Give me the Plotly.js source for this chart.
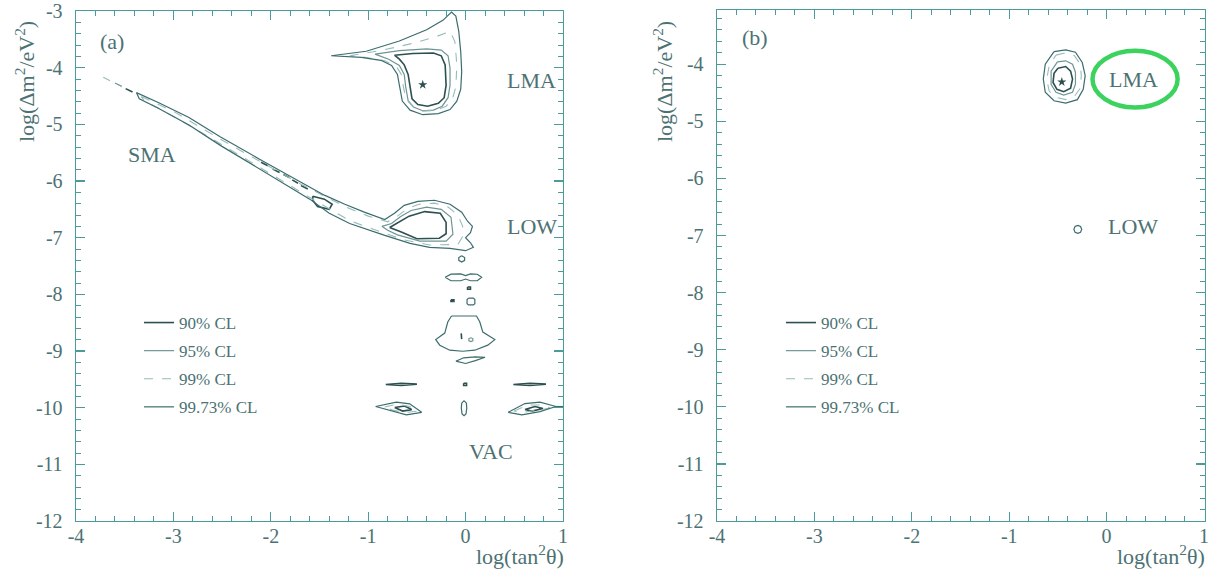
<!DOCTYPE html>
<html><head><meta charset="utf-8">
<script src="https://cdn.plot.ly/plotly-3.0.1.min.js"></script>
<style>html,body{margin:0;padding:0;background:#fff}#chart{width:1210px;height:571px}</style>
</head><body><div id="chart"></div>
<script>
// ---------- ticks ----------
const xTickVals = [-4,-3,-2,-1,0,1];
const xTickText = ['-4','-3','-2','-1','0','1'];
const yTickVals = [-12,-11,-10,-9,-8,-7,-6,-5,-4,-3];
const yTickText = ['-12','-11','-10','-9','-8','-7','-6','-5','-4','-3'];
const minorStep = 0.2;
const clLevels = ['90% CL','95% CL','99% CL','99.73% CL'];

// ---------- panel (a) : LMA ----------
const aLma73X = [-1.38,-1.02,-0.68,-0.40,-0.23,-0.145,-0.10,-0.07,-0.05,-0.04,-0.05,-0.09,-0.16,-0.28,-0.44,-0.57,-0.65,-0.68,-0.70,-0.76,-0.87,-1.07,-1.38];
const aLma73Y = [-3.79,-3.71,-3.53,-3.33,-3.16,-3.02,-3.09,-3.36,-3.72,-4.07,-4.38,-4.59,-4.74,-4.81,-4.83,-4.75,-4.59,-4.32,-4.12,-3.96,-3.87,-3.82,-3.79];
const aLma99X = [-1.19,-0.85,-0.54,-0.30,-0.16,-0.11,-0.09,-0.10,-0.135,-0.20,-0.30,-0.44,-0.54,-0.615,-0.64,-0.66,-0.71,-0.83,-1.02,-1.19];
const aLma99Y = [-3.79,-3.69,-3.57,-3.45,-3.36,-3.54,-3.95,-4.34,-4.55,-4.68,-4.75,-4.77,-4.69,-4.55,-4.32,-4.12,-3.98,-3.88,-3.82,-3.79];
const aLma95X = [-0.93,-0.68,-0.40,-0.25,-0.18,-0.16,-0.16,-0.18,-0.24,-0.33,-0.44,-0.53,-0.59,-0.615,-0.63,-0.68,-0.79,-0.93];
const aLma95Y = [-3.76,-3.70,-3.67,-3.69,-3.79,-4.01,-4.31,-4.53,-4.68,-4.75,-4.76,-4.70,-4.58,-4.34,-4.12,-3.96,-3.85,-3.76];
const aLma90X = [-0.73,-0.54,-0.33,-0.25,-0.21,-0.20,-0.22,-0.28,-0.39,-0.49,-0.55,-0.57,-0.59,-0.63,-0.68,-0.73];
const aLma90Y = [-3.78,-3.75,-3.74,-3.79,-3.95,-4.31,-4.53,-4.63,-4.68,-4.65,-4.55,-4.34,-4.12,-3.95,-3.85,-3.78];
const aStarX = [-0.44];
const aStarY = [-4.30];

// ---------- panel (a) : SMA - LOW band ----------
const aSma73X = [-3.38,-3.15,-2.84,-2.52,-2.12,-1.71,-1.45,-1.24,-1.04,-0.83,-0.73,-0.63,-0.49,-0.32,-0.16,-0.04,0.02,0.07,0.05,0.00,0.05,0.08,0.00,-0.16,-0.37,-0.57,-0.83,-1.19,-1.40,-1.60,-2.01,-2.51,-2.84,-3.15,-3.35,-3.38];
const aSma73Y = [-4.44,-4.62,-4.88,-5.22,-5.61,-6.00,-6.25,-6.41,-6.55,-6.68,-6.57,-6.43,-6.36,-6.34,-6.41,-6.55,-6.71,-6.80,-6.91,-7.00,-7.09,-7.17,-7.23,-7.19,-7.17,-7.10,-6.96,-6.75,-6.57,-6.32,-5.90,-5.38,-5.01,-4.72,-4.55,-4.44];
const aSma99X = [-3.33,-2.99,-2.52,-2.12,-1.71,-1.24,-1.00,-0.80,-0.70,-0.60,-0.48,-0.32,-0.18,-0.08,-0.03,-0.03,-0.08,-0.37,-0.63,-0.85,-1.19,-1.60,-2.01,-2.51,-2.99,-3.30,-3.33];
const aSma99Y = [-4.51,-4.78,-5.26,-5.65,-6.04,-6.45,-6.62,-6.72,-6.62,-6.49,-6.41,-6.39,-6.46,-6.60,-6.80,-6.98,-7.12,-7.13,-7.04,-6.91,-6.70,-6.29,-5.86,-5.35,-4.87,-4.58,-4.51];
const aLow95X = [-0.86,-0.76,-0.67,-0.56,-0.40,-0.25,-0.15,-0.13,-0.20,-0.47,-0.70,-0.80,-0.86];
const aLow95Y = [-6.80,-6.75,-6.63,-6.52,-6.46,-6.50,-6.64,-6.94,-7.06,-7.06,-6.95,-6.87,-6.80];
const aLow90X = [-0.78,-0.70,-0.58,-0.42,-0.26,-0.20,-0.20,-0.27,-0.50,-0.66,-0.78];
const aLow90Y = [-6.82,-6.74,-6.62,-6.54,-6.57,-6.73,-6.93,-7.01,-7.02,-6.90,-6.82];
const aDropX = [-0.04,-0.01,-0.01,-0.04,-0.07,-0.07,-0.04];
const aDropY = [-7.32,-7.35,-7.40,-7.43,-7.40,-7.35,-7.32];
const aDot1X = [-3.72,-3.65]; const aDot1Y = [-4.17,-4.23];
const aDot2X = [-3.60,-3.53]; const aDot2Y = [-4.27,-4.33];
const aDot3X = [-3.49,-3.42]; const aDot3Y = [-4.37,-4.43];
const aIsl1X = [-2.10,-2.03]; const aIsl1Y = [-5.67,-5.73];
const aIsl2X = [-1.98,-1.91]; const aIsl2Y = [-5.79,-5.85];
const aIsl3X = [-1.87,-1.81]; const aIsl3Y = [-5.885,-5.94];
const aIsl4X = [-1.78,-1.72]; const aIsl4Y = [-5.98,-6.04];
const aIsl5X = [-1.69,-1.62]; const aIsl5Y = [-6.08,-6.14];
const aZX = [-1.57,-1.45,-1.37,-1.40,-1.52,-1.57,-1.57];
const aZY = [-6.27,-6.32,-6.41,-6.50,-6.45,-6.34,-6.27];

// ---------- panel (a) : VAC ----------
const vPeanutX = [-0.21,-0.15,-0.05,0,0.05,0.12,0.165,0.12,0.05,0,-0.05,-0.15,-0.21];
const vPeanutY = [-7.70,-7.645,-7.64,-7.67,-7.64,-7.645,-7.70,-7.76,-7.76,-7.73,-7.76,-7.76,-7.70];
const vDot1X = [0.02,0.05,0.05,0.02,0.02]; const vDot1Y = [-7.87,-7.87,-7.91,-7.91,-7.87];
const vDot2X = [-0.15,-0.12,-0.12,-0.15,-0.15]; const vDot2Y = [-8.095,-8.095,-8.125,-8.125,-8.095];
const vSquareX = [0.03,0.08,0.095,0.095,0.08,0.03,0.015,0.015,0.03];
const vSquareY = [-8.067,-8.067,-8.09,-8.165,-8.187,-8.187,-8.165,-8.09,-8.067];
const vBellX = [-0.145,0.112,0.146,0.177,0.300,0.228,0.095,-0.029,-0.163,-0.265,-0.307,-0.214,-0.183,-0.145];
const vBellY = [-8.382,-8.382,-8.488,-8.666,-8.799,-8.897,-8.986,-9.004,-8.986,-8.897,-8.799,-8.684,-8.488,-8.382];
const vBellDashX = [-0.045,-0.040]; const vBellDashY = [-8.69,-8.79];
const vBellRingX = [0.054,0.074,0.074,0.054,0.034,0.034,0.054];
const vBellRingY = [-8.765,-8.78,-8.82,-8.835,-8.82,-8.78,-8.765];
const vLensX = [-0.10,-0.02,0.10,0.20,0.10,0.0,-0.10];
const vLensY = [-9.18,-9.12,-9.105,-9.11,-9.17,-9.22,-9.18];
const vDashLX = [-0.82,-0.66,-0.50,-0.66,-0.82]; const vDashLY = [-9.59,-9.57,-9.585,-9.61,-9.59];
const vDashRX = [0.49,0.66,0.825,0.66,0.49]; const vDashRY = [-9.59,-9.57,-9.585,-9.61,-9.59];
const vDotCX = [-0.02,0.01,0.01,-0.02,-0.02]; const vDotCY = [-9.57,-9.57,-9.61,-9.61,-9.57];
const vLensLOutX = [-0.924,-0.711,-0.574,-0.451,-0.608,-0.746,-0.924];
const vLensLOutY = [-9.98,-9.904,-9.932,-10.082,-10.128,-10.064,-9.98];
const vLensLMidX = [-0.831,-0.698,-0.574,-0.492,-0.626,-0.749,-0.831];
const vLensLMidY = [-9.989,-9.936,-9.98,-10.06,-10.087,-10.043,-9.989];
const vLensLInX = [-0.728,-0.626,-0.554,-0.646,-0.728];
const vLensLInY = [-9.998,-9.972,-10.034,-10.06,-9.998];
const vLensROutX = [0.437,0.609,0.763,0.928,0.763,0.578,0.437];
const vLensROutY = [-10.082,-9.927,-9.901,-9.98,-10.069,-10.128,-10.082];
const vTailX = [0.928,1.0]; const vTailY = [-9.98,-9.98];
const vLensRMidX = [0.496,0.640,0.815,0.866,0.712,0.578,0.496];
const vLensRMidY = [-10.06,-9.954,-9.954,-10.007,-10.051,-10.087,-10.06];
const vLensRInX = [0.609,0.712,0.794,0.681,0.609];
const vLensRInY = [-10.034,-9.98,-10.016,-10.06,-10.034];
const vOvalX = [-0.016,0.008,0.012,0.004,-0.016,-0.036,-0.044,-0.040,-0.016];
const vOvalY = [-9.874,-9.92,-10.01,-10.11,-10.14,-10.11,-10.01,-9.92,-9.874];

// ---------- panel (b) ----------
const bLma73X = [-0.54,-0.42,-0.32,-0.25,-0.22,-0.24,-0.30,-0.42,-0.54,-0.63,-0.65,-0.63,-0.54];
const bLma73Y = [-3.78,-3.75,-3.79,-3.97,-4.20,-4.44,-4.62,-4.68,-4.64,-4.49,-4.26,-4.00,-3.78];
const bLma99X = [-0.52,-0.42,-0.33,-0.27,-0.26,-0.27,-0.33,-0.42,-0.52,-0.59,-0.615,-0.59,-0.52];
const bLma99Y = [-3.84,-3.80,-3.85,-4.00,-4.20,-4.42,-4.56,-4.62,-4.58,-4.47,-4.26,-4.03,-3.84];
const bLma95X = [-0.505,-0.42,-0.35,-0.32,-0.32,-0.35,-0.44,-0.52,-0.57,-0.57,-0.505];
const bLma95Y = [-3.96,-3.94,-4.00,-4.14,-4.35,-4.49,-4.54,-4.49,-4.35,-4.12,-3.96];
const bLma90X = [-0.50,-0.42,-0.37,-0.35,-0.37,-0.44,-0.51,-0.55,-0.54,-0.50];
const bLma90Y = [-4.07,-4.04,-4.12,-4.26,-4.42,-4.48,-4.44,-4.32,-4.16,-4.07];
const bLowX = [-0.296,-0.268,-0.256,-0.268,-0.296,-0.324,-0.336,-0.324,-0.296];
const bLowY = [-6.822,-6.842,-6.892,-6.942,-6.962,-6.942,-6.892,-6.842,-6.822];
const bStarX = [-0.46];
const bStarY = [-4.31];

// ---------- region labels ----------
const aLabelText = ['(a)','LMA','SMA','LOW','VAC'];
const aLabelX = [-3.635,0.678,-3.215,0.678,0.259];
const aLabelY = [-3.53,-4.23,-5.54,-6.81,-10.78];
const bLabelText = ['(b)','LMA','LOW'];
const bLabelX = [-3.61,0.275,0.275];
const bLabelY = [-3.53,-4.26,-6.85];
// hand-drawn highlight around LMA label in (b)
const ringX = [-0.145,0.729];
const ringY = [-4.757,-3.764];

// ---------- styling ----------
const TXT = '#4c7273';
const AXC = '#4a9c9c';
const FONT = 'Liberation Serif, Times New Roman, serif';
const levelColors = ['#2c4f50','#6e9594','#98bbba','#3c6c6e'];
const levelWidths = [1.6,1.2,1.1,1.2];
const levelDash = ['solid','solid','dash','solid'];

function join(parts){
  const xs=[], ys=[];
  parts.forEach((p,i)=>{ if(i){xs.push(null);ys.push(null);} xs.push(...p[0]); ys.push(...p[1]); });
  return [xs,ys];
}

const aLevels = [
  join([[aLma90X,aLma90Y],[aLow90X,aLow90Y],[aDot3X,aDot3Y],[aIsl1X,aIsl1Y],[aIsl2X,aIsl2Y],[aIsl3X,aIsl3Y],[aIsl4X,aIsl4Y],[aIsl5X,aIsl5Y],[aZX,aZY],[vDot1X,vDot1Y],[vDot2X,vDot2Y],[vBellDashX,vBellDashY],[vDashLX,vDashLY],[vDashRX,vDashRY],[vDotCX,vDotCY],[vLensLInX,vLensLInY],[vLensRInX,vLensRInY]]),
  join([[aLma95X,aLma95Y],[aLow95X,aLow95Y],[vBellRingX,vBellRingY],[aDot2X,aDot2Y]]),
  join([[aLma99X,aLma99Y],[aSma99X,aSma99Y],[aDot1X,aDot1Y],[vLensLMidX,vLensLMidY],[vLensRMidX,vLensRMidY]]),
  join([[aLma73X,aLma73Y],[aSma73X,aSma73Y],[aDropX,aDropY],[vPeanutX,vPeanutY],[vSquareX,vSquareY],[vBellX,vBellY],[vLensX,vLensY],[vLensLOutX,vLensLOutY],[vLensROutX,vLensROutY],[vTailX,vTailY],[vOvalX,vOvalY]])
];
const bLevels = [
  join([[bLma90X,bLma90Y]]),
  join([[bLma95X,bLma95Y]]),
  join([[bLma99X,bLma99Y]]),
  join([[bLma73X,bLma73Y],[bLowX,bLowY]])
];

const traces = [];
clLevels.forEach((name,i)=>{
  traces.push({type:'scatter',mode:'lines',x:aLevels[i][0],y:aLevels[i][1],xaxis:'x',yaxis:'y',name:name,
    legend:'legend',legendgroup:'a'+i,line:{color:levelColors[i],width:levelWidths[i],dash:levelDash[i]},hoverinfo:'skip',connectgaps:false});
});
clLevels.forEach((name,i)=>{
  traces.push({type:'scatter',mode:'lines',x:bLevels[i][0],y:bLevels[i][1],xaxis:'x2',yaxis:'y2',name:name,
    legend:'legend2',legendgroup:'b'+i,line:{color:levelColors[i],width:levelWidths[i],dash:levelDash[i]},hoverinfo:'skip',connectgaps:false});
});
traces.push({type:'scatter',mode:'markers',x:aStarX,y:aStarY,xaxis:'x',yaxis:'y',showlegend:false,
  marker:{symbol:'star',size:7,color:'#2c4f50'},hoverinfo:'skip'});
traces.push({type:'scatter',mode:'markers',x:bStarX,y:bStarY,xaxis:'x2',yaxis:'y2',showlegend:false,
  marker:{symbol:'star',size:7,color:'#2c4f50'},hoverinfo:'skip'});
// empty carriers so the tick-only overlay axes (all four frame sides) are drawn
[['x3','y'],['x5','y'],['x7','y'],['x','y3'],['x','y5'],['x','y7'],
 ['x4','y2'],['x6','y2'],['x8','y2'],['x2','y4'],['x2','y6'],['x2','y8']].forEach(p=>traces.push({type:'scatter',mode:'lines',x:[],y:[],
  xaxis:p[0],yaxis:p[1],showlegend:false,hoverinfo:'skip'}));

function axis(domain, range, vals, text, anchor, standoff){
  return {domain:domain, range:range, anchor:anchor, showline:true, linecolor:AXC, linewidth:1.4, mirror:true,
    ticks:'inside', ticklen:9, tickwidth:1.2, tickcolor:AXC, showgrid:false, zeroline:false,
    tickmode:'array', tickvals:vals, ticktext:text, ticklabelstandoff:standoff,
    tickfont:{family:FONT,size:20,color:TXT}};
}
function minorAxis(over, anchor, range, side){
  return {overlaying:over, anchor:anchor, range:range, side:side, showline:false, mirror:false,
    ticks:'inside', ticklen:5, tickwidth:1, tickcolor:AXC, showgrid:false, zeroline:false,
    showticklabels:false, tickmode:'linear', tick0:0, dtick:minorStep};
}
function majorMirror(over, anchor, range, side, vals){
  return {overlaying:over, anchor:anchor, range:range, side:side, showline:false, mirror:false,
    ticks:'inside', ticklen:9, tickwidth:1.2, tickcolor:AXC, showgrid:false, zeroline:false,
    showticklabels:false, tickmode:'array', tickvals:vals};
}
const layout = {
  width:1210, height:571, margin:{l:0,r:0,t:0,b:0},
  paper_bgcolor:'#ffffff', plot_bgcolor:'#ffffff',
  xaxis: axis([76/1210,563/1210],[-4,1],xTickVals,xTickText,'y',-3),
  yaxis: axis([1-521/571,1-11/571],[-12,-3],yTickVals,yTickText,'x',8),
  xaxis2: axis([717/1210,1205/1210],[-4,1.01],xTickVals,xTickText,'y2',-3),
  yaxis2: axis([1-521/571,1-10/571],[-12,-3.05],yTickVals,yTickText,'x2',8),
  xaxis3: minorAxis('x','y',[-4,1],'bottom'),
  xaxis5: minorAxis('x','y',[-4,1],'top'),
  xaxis7: majorMirror('x','y',[-4,1],'top',xTickVals),
  yaxis3: minorAxis('y','x',[-12,-3],'left'),
  yaxis5: minorAxis('y','x',[-12,-3],'right'),
  yaxis7: majorMirror('y','x',[-12,-3],'right',yTickVals),
  xaxis4: minorAxis('x2','y2',[-4,1.01],'bottom'),
  xaxis6: minorAxis('x2','y2',[-4,1.01],'top'),
  xaxis8: majorMirror('x2','y2',[-4,1.01],'top',xTickVals),
  yaxis4: minorAxis('y2','x2',[-12,-3.05],'left'),
  yaxis6: minorAxis('y2','x2',[-12,-3.05],'right'),
  yaxis8: majorMirror('y2','x2',[-12,-3.05],'right',yTickVals),
  showlegend:true
};

const annotations = [];
aLabelText.forEach((t,i)=>annotations.push({xref:'x',yref:'y',x:aLabelX[i],y:aLabelY[i],text:t,showarrow:false,
  font:{family:FONT,size:22,color:TXT}}));
bLabelText.forEach((t,i)=>annotations.push({xref:'x2',yref:'y2',x:bLabelX[i],y:bLabelY[i],text:t,showarrow:false,
  font:{family:FONT,size:22,color:TXT}}));
const yTitle = 'log(Δm<sup>2</sup>/eV<sup>2</sup>)';
const xTitle = 'log(tan<sup>2</sup>θ)';
[[25/1210],[663/1210]].forEach(p=>annotations.push({xref:'paper',yref:'paper',x:p[0],y:1-82/571,text:yTitle,textangle:-90,
  showarrow:false,xanchor:'center',yanchor:'middle',font:{family:FONT,size:22,color:TXT}}));
[[566/1210],[1207/1210]].forEach(p=>annotations.push({xref:'paper',yref:'paper',x:p[0],y:1-555/571,text:xTitle,
  showarrow:false,xanchor:'right',yanchor:'middle',font:{family:FONT,size:22,color:TXT}}));
layout.annotations = annotations;

const legendBase = {xref:'paper',yref:'paper',xanchor:'left',yanchor:'top',bgcolor:'rgba(0,0,0,0)',borderwidth:0,
  font:{family:FONT,size:17,color:TXT},tracegroupgap:3,itemclick:false,itemdoubleclick:false};
layout.legend = Object.assign({},legendBase,{x:139/1210,y:1-305/571});
layout.legend2 = Object.assign({},legendBase,{x:781/1210,y:1-305/571});
layout.shapes = [{type:'circle',xref:'x2',yref:'y2',x0:ringX[0],x1:ringX[1],y0:ringY[0],y1:ringY[1],
  line:{color:'#3bd35e',width:4.5}}];

Plotly.newPlot('chart',traces,layout,{displayModeBar:false,staticPlot:true});
</script></body></html>
